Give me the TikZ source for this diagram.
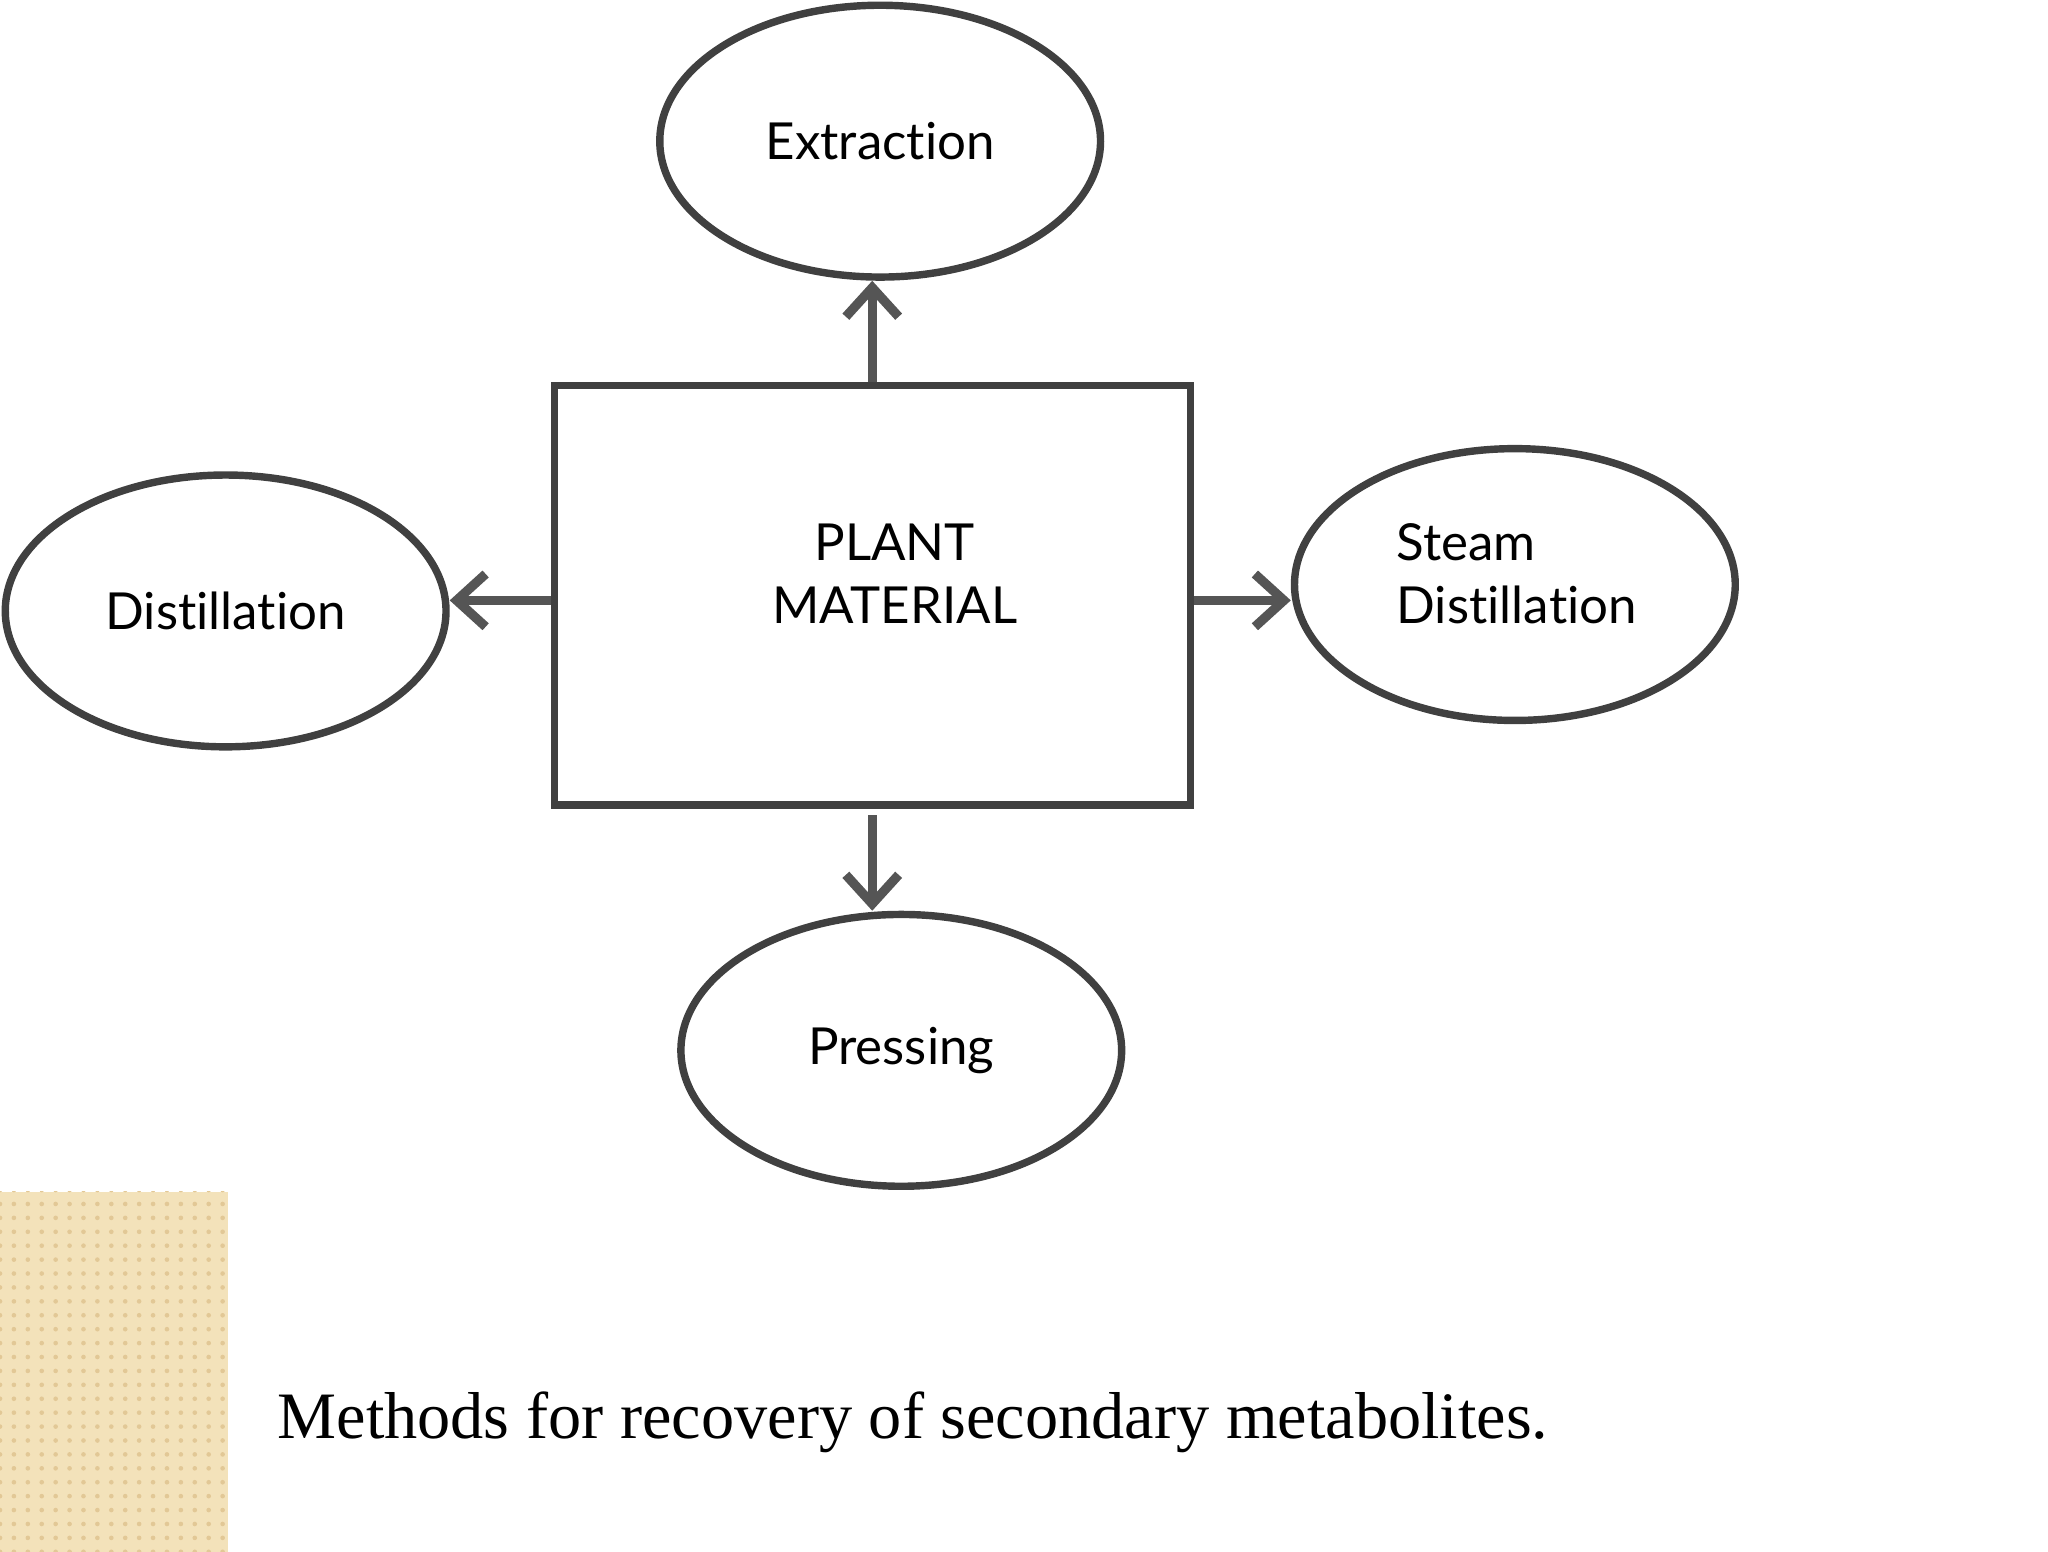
\documentclass[tikz,border=0pt]{standalone}
\usepackage{fontspec}
\setmainfont{Liberation Serif}
\newfontfamily\labelfont[Ligatures={NoCommon,NoRare}]{Lato}
\usetikzlibrary{patterns,arrows.meta,shapes.geometric}
\definecolor{linegray}{RGB}{64,64,64}
\definecolor{arrowgray}{RGB}{85,85,85}
\definecolor{paper}{RGB}{243,226,186}
\definecolor{paperdot}{RGB}{226,200,150}
\tikzset{
 method/.style={ellipse,draw=linegray,line width=1.6pt,minimum width=3.34cm,minimum height=2.06cm,inner sep=0pt,font=\labelfont\fontsize{11}{13.5}\selectfont},
 source/.style={rectangle,draw=linegray,line width=1.6pt,minimum width=4.82cm,minimum height=3.18cm},
 flow/.style={-{Straight Barb[length=2.2mm,width=4mm]},draw=arrowgray,line width=2pt}
}
\begin{document}
\begin{tikzpicture}
 \useasboundingbox (0,0) rectangle (15.52,11.76);

 \node at (6.61,7.25) [source] (plant) {};
 \node at (6.78,7.41) [font=\labelfont\fontsize{11}{13.5}\selectfont,align=center] (plantlabel) {PLANT\\MATERIAL};
 \node at (6.67,10.69) [method] (extr) {Extraction};
 \node at (1.71,7.13) [method] (dist) {Distillation};
 \node at (11.48,7.33) [method] (steam) {};
 \node at (10.46,7.41) [font=\labelfont\fontsize{11}{13.5}\selectfont,align=left,anchor=west] (steamlabel) {Steam\\Distillation};
 \node at (6.83,3.80) [method] (press) {Pressing};

 \draw[flow] (plant.north) -- (plant.north |- extr.south);
 \draw[flow] (plant.west |- 0,7.21) -- (dist.east |- 0,7.21);
 \draw[flow] (plant.east |- 0,7.21) -- (steam.west |- 0,7.21);
 \draw[flow] ([yshift=-0.05cm]plant.south) -- (plant.south |- press.north);

 % paper corner
 \fill[paper] (0,0) rectangle (1.73,2.73);
 \fill[pattern=dots,pattern color=paperdot] (0,0) rectangle (1.73,2.73);

 \node at (1.98,0.86) [anchor=base west,font=\fontsize{14.3}{17}\selectfont] (caption) {Methods for recovery of secondary metabolites.};
\end{tikzpicture}
\end{document}
